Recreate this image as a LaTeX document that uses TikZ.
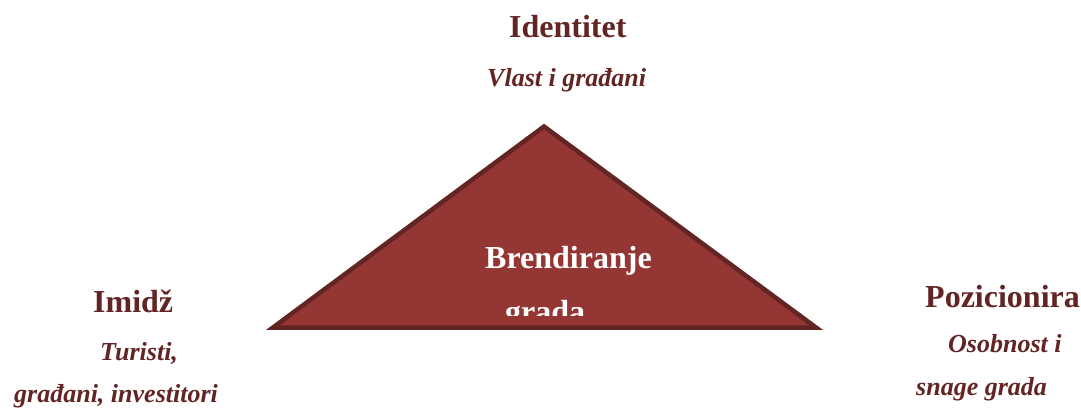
\documentclass[tikz,border=0pt]{standalone}
\usepackage{fontspec}
\setmainfont{Liberation Serif}
\definecolor{txtred}{HTML}{632523}
\definecolor{fillred}{HTML}{943634}
\begin{document}
\begin{tikzpicture}[x=1pt,y=-1pt,
  head/.style={inner sep=0pt,anchor=base west,text=txtred,font=\bfseries\fontsize{32}{36}\selectfont},
  sub/.style={inner sep=0pt,anchor=base west,text=txtred,font=\bfseries\itshape\fontsize{26}{30}\selectfont},
  inner/.style={inner sep=0pt,anchor=base west,text=white,font=\bfseries\fontsize{32}{36}\selectfont}]
\useasboundingbox (0,0) rectangle (1081,409);
\fill[white] (0,0) rectangle (1081,409);
% triangle
\coordinate (apex) at (544,126.5);
\coordinate (bl) at (273,327.5);
\coordinate (br) at (816,327.5);
\draw[fill=fillred,draw=txtred,line width=4.5pt,line join=miter] (apex) -- (br) -- (bl) -- cycle;
\node[inner] (brend) at (485,268) {Brendiranje};
\begin{scope}
\clip (400,280) rectangle (700,315);
\node[inner] (grada) at (505,322) {grada};
\end{scope}
% top
\node[head] (ident) at (509,38) {Identitet};
\node[sub] (vlast) at (487,87) {Vlast i građani};
% left
\node[head] (imidz) at (93,312) {Imidž};
\node[sub] (turisti) at (100,360) {Turisti,};
\node[sub] (gradjani) at (14,402) {građani, investitori};
% right
\node[head] (pozic) at (925,307) {Pozicionira};
\node[sub] (osob) at (948,352) {Osobnost i};
\node[sub] (snage) at (916,395) {snage grada};
\end{tikzpicture}
\end{document}
